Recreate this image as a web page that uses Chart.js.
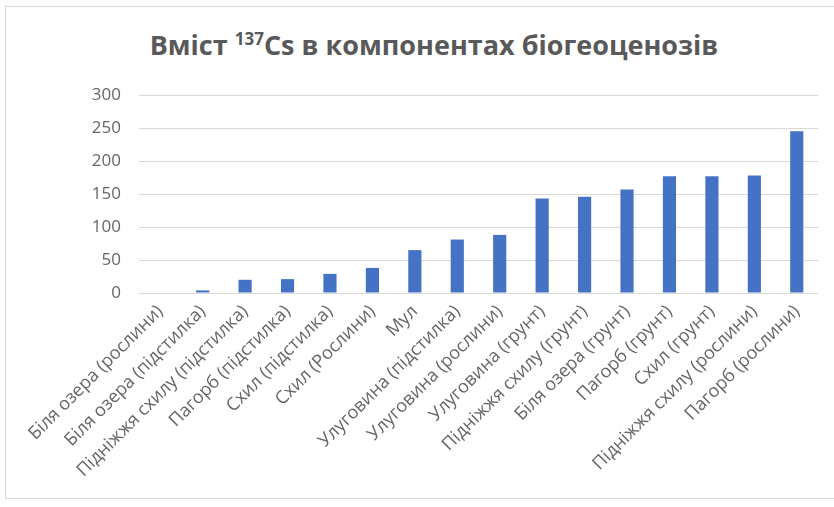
<!DOCTYPE html>
<html>
<head>
<meta charset="utf-8">
<script src="https://cdn.jsdelivr.net/npm/chart.js@4"></script>
<style>
    body { margin: 0; background: #fff; }
    #wrap { position: relative; width: 834px; height: 507px; }
    #frame {
        position: absolute; left: 5px; top: 6px; width: 840px; height: 493px;
        border: 1px solid #d9d9d9; box-sizing: border-box;
    }
    #title {
        position: absolute; left: 0; top: 26px; width: 868px; text-align: center;
        font-family: "Open Sans", sans-serif; font-weight: bold; font-size: 27px;
        color: #595959; white-space: nowrap;
    }
    #title sup { font-size: 17px; vertical-align: 0; position: relative; top: -10px; }
    canvas { position: absolute; left: 0; top: 0; }
</style>
</head>
<body>
<div id="wrap">
    <div id="frame"></div>
    <div id="title">Вміст <sup>137</sup>Cs в компонентах біогеоценозів</div>
    <canvas id="chart" width="834" height="507"></canvas>
</div>
<script>
const categories = [
    'Біля озера (рослини)', 'Біля озера (підстилка)', 'Підніжжя схилу (підстилка)',
    'Пагорб (підстилка)', 'Схил (підстилка)', 'Схил (Рослини)', 'Мул',
    'Улуговина (підстилка)', 'Улуговина (рослини)', 'Улуговина (грунт)',
    'Підніжжя схилу (грунт)', 'Біля озера (грунт)', 'Пагорб (грунт)',
    'Схил (грунт)', 'Підніжжя схилу (рослини)', 'Пагорб (рослини)'
];
const values = [0, 4, 20, 21, 29, 38, 65, 81, 88, 143, 146, 157, 177, 177, 178, 245];
const yTicks = [0, 50, 100, 150, 200, 250, 300];

const textGray = '#666666';
const font = { family: '"Open Sans", sans-serif', size: 18 };

new Chart(document.getElementById('chart'), {
    type: 'bar',
    data: {
        labels: categories,
        datasets: [{
            data: values,
            backgroundColor: '#4472c4',
            barPercentage: 0.62,
            categoryPercentage: 0.5
        }]
    },
    options: {
        responsive: false,
        animation: false,
        layout: { padding: { left: 6, right: 16, top: 95, bottom: 0 } },
        plugins: { legend: { display: false }, tooltip: { enabled: false } },
        scales: {
            x: {
                grid: { display: false, drawTicks: false },
                border: { display: false },
                ticks: { color: textGray, font: font, minRotation: 45, maxRotation: 45, padding: 8 },
                afterFit: scale => { scale.height = 214; }
            },
            y: {
                min: 0,
                max: yTicks[yTicks.length - 1],
                grid: { color: '#d9d9d9', drawTicks: false },
                border: { display: false },
                ticks: { stepSize: 50, color: textGray, font: { family: font.family, size: 17 }, padding: 18 },
                afterFit: scale => { scale.width = 133; }
            }
        }
    }
});
</script>
</body>
</html>
